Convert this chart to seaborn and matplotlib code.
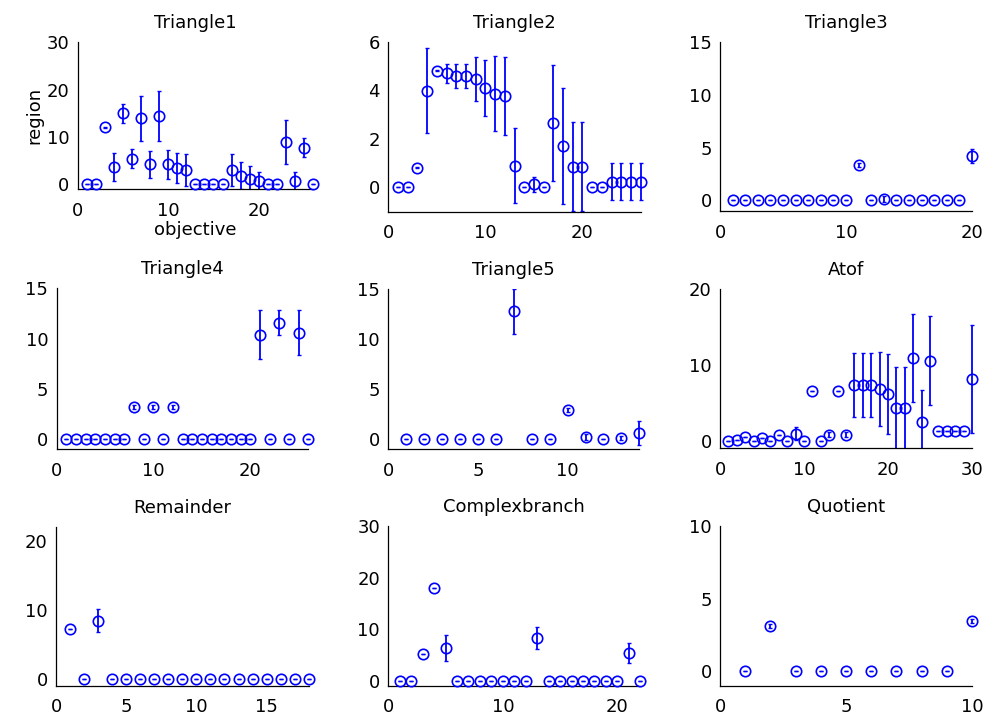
import numpy as np
import matplotlib
matplotlib.use('Agg')
import matplotlib.pyplot as plt
from matplotlib.patches import Rectangle
import seaborn as sns

# mean / error per benchmark (x = 1..n)
tri1_mean = [0, 0, 12.0, 3.6, 15.0, 5.4, 13.9, 4.2, 14.4, 4.2, 3.5, 3.0, 0, 0, 0, 0,
             3.0, 1.8, 1.1, 0.6, 0, 0, 8.9, 0.6, 7.7, 0]
tri1_err = [0, 0, 0.1, 3.0, 2.0, 2.0, 4.8, 2.9, 5.3, 3.0, 3.2, 3.3, 0, 0, 0, 0,
            3.3, 2.9, 2.8, 2.0, 0, 0, 4.6, 1.9, 2.0, 0]

tri2_mean = [0, 0, 0.8, 3.98, 4.8, 4.7, 4.59, 4.59, 4.46, 4.09, 3.86, 3.75, 0.9, 0,
             0.12, 0, 2.66, 1.7, 0.85, 0.85, 0, 0, 0.23, 0.23, 0.23, 0.23]
tri2_err = [0, 0, 0.02, 1.75, 0.02, 0.39, 0.5, 0.5, 0.9, 1.15, 1.55, 1.6, 1.55, 0,
            0.3, 0, 2.38, 2.4, 1.84, 1.84, 0, 0, 0.76, 0.76, 0.76, 0.76]

tri3_mean = [0, 0, 0, 0, 0, 0, 0, 0, 0, 0, 3.36, 0, 0.15, 0, 0, 0, 0, 0, 0, 4.2]
tri3_err = [0, 0, 0, 0, 0, 0, 0, 0, 0, 0, 0.2, 0, 0.3, 0, 0, 0, 0, 0, 0, 0.7]

tri4_mean = [0, 0, 0, 0, 0, 0, 0, 3.22, 0, 3.22, 0, 3.22, 0, 0, 0, 0, 0, 0, 0, 0,
             10.4, 0, 11.56, 0, 10.56, 0]
tri4_err = [0, 0, 0, 0, 0, 0, 0, 0.2, 0, 0.2, 0, 0.2, 0, 0, 0, 0, 0, 0, 0, 0,
            2.45, 0, 1.23, 0, 2.23, 0]

tri5_mean = [0, 0, 0, 0, 0, 0, 12.77, 0, 0, 2.93, 0.2, 0, 0.07, 0.6]
tri5_err = [0, 0, 0, 0, 0, 0, 2.27, 0, 0, 0.2, 0.3, 0, 0.2, 1.2]

atof_mean = [0, 0.05, 0.45, 0, 0.4, 0, 0.7, 0, 0.9, 0, 6.6, 0, 0.8, 6.6, 0.8,
             7.37, 7.37, 7.37, 6.84, 6.14, 4.3, 4.3, 10.88, 2.46, 10.53,
             1.23, 1.23, 1.23, 1.23, 8.16]
atof_err = [0, 0, 0, 0, 0, 0, 0, 0, 0.85, 0, 0, 0, 0.3, 0, 0.3,
            4.2, 4.2, 4.2, 4.85, 5.3, 5.48, 5.48, 5.8, 4.16, 5.85,
            0, 0, 0, 0, 7.15]

rem_mean = [7.3, 0, 8.4] + [0] * 15
rem_err = [0, 0, 1.65] + [0] * 15

cb_mean = [0, 0, 5.16, 17.9, 6.3, 0, 0, 0, 0, 0, 0, 0, 8.3, 0, 0, 0, 0, 0, 0, 0, 5.4, 0]
cb_err = [0, 0, 0, 0, 2.5, 0, 0, 0, 0, 0, 0, 0, 2.1, 0, 0, 0, 0, 0, 0, 0, 1.9, 0]

quo_mean = [0, 3.1, 0, 0, 0, 0, 0, 0, 0, 3.48]
quo_err = [0, 0.15, 0, 0, 0, 0, 0, 0, 0, 0.15]

names = ['Triangle1', 'Triangle2', 'Triangle3', 'Triangle4', 'Triangle5',
         'Atof', 'Remainder', 'Complexbranch', 'Quotient']
means = [tri1_mean, tri2_mean, tri3_mean, tri4_mean, tri5_mean,
         atof_mean, rem_mean, cb_mean, quo_mean]
errs = [tri1_err, tri2_err, tri3_err, tri4_err, tri5_err,
        atof_err, rem_err, cb_err, quo_err]
xlims = [26, 26, 20, 26, 14, 30, 18, 22, 10]
ylims = [30, 6, 15, 15, 15, 20, 22, 30, 10]
xticks = [[0, 10, 20], [0, 10, 20], [0, 10, 20], [0, 10, 20], [0, 5, 10],
          [0, 10, 20, 30], [0, 5, 10, 15], [0, 10, 20], [0, 5, 10]]
yticks = [[0, 10, 20, 30], [0, 2, 4, 6], [0, 5, 10, 15], [0, 5, 10, 15],
          [0, 5, 10, 15], [0, 10, 20], [0, 10, 20], [0, 10, 20, 30], [0, 5, 10]]

# axes boxes in pixels: left, right, top, bottom
W, H = 989, 717
boxes = [(77.7, 313, 42.3, 189), (388.3, 640.7, 41.7, 211.7), (720, 972, 41.7, 211),
         (56.7, 308.3, 288.3, 449), (388.3, 639.3, 289, 449), (720, 972, 289, 448.3),
         (56, 308.7, 526.7, 686), (388.3, 640.3, 526, 686), (720, 972, 525.7, 686)]

sns.set_style('white')
plt.rcParams['font.family'] = ['DejaVu Sans']
plt.rcParams['text.color'] = 'black'
plt.rcParams['axes.labelcolor'] = 'black'
blue = '#0000ff'

fig = plt.figure(figsize=(W / 100, H / 100), dpi=100)
for i in range(9):
    l, r, t, b = boxes[i]
    ax = fig.add_axes([l / W, 1 - b / H, (r - l) / W, (b - t) / H])
    m = np.array(means[i])
    e = np.array(errs[i])
    x = np.arange(1, len(m) + 1)
    eb = ax.errorbar(x, m, yerr=e, fmt='none', ecolor=blue,
                     elinewidth=1.3, capsize=1.5, capthick=1.0)
    # clip bars only at top/bottom, like the original
    clip = Rectangle((-0.1, 0), 1.2, 1, transform=ax.transAxes,
                     fill=False, visible=False)
    ax.add_patch(clip)
    for art in eb.lines[1] + eb.lines[2]:
        art.set_clip_path(clip)
    ax.plot(x, m, 'o', color=blue, mfc='none', mec=blue, ms=7.5, mew=1.2,
            clip_on=False, zorder=3)
    ax.set_xlim(0, xlims[i])
    ax.set_ylim(-1, ylims[i])
    ax.set_xticks(xticks[i])
    ax.set_yticks(yticks[i])
    ax.tick_params(direction='in', length=3, width=0.8, labelsize=13,
                   colors='black')
    ax.tick_params(axis='x', pad=9)
    ax.tick_params(axis='y', pad=6)
    sns.despine(ax=ax)
    for s in ['left', 'bottom']:
        ax.spines[s].set_color('black')
        ax.spines[s].set_linewidth(0.9)
    ax.set_title(names[i], fontsize=13, pad=10, color='black')
    if i == 0:
        ax.set_xlabel('objective', fontsize=13, labelpad=1)
        ax.set_ylabel('region', fontsize=13, labelpad=2)

fig.savefig('out.png', dpi=100, facecolor='white')
